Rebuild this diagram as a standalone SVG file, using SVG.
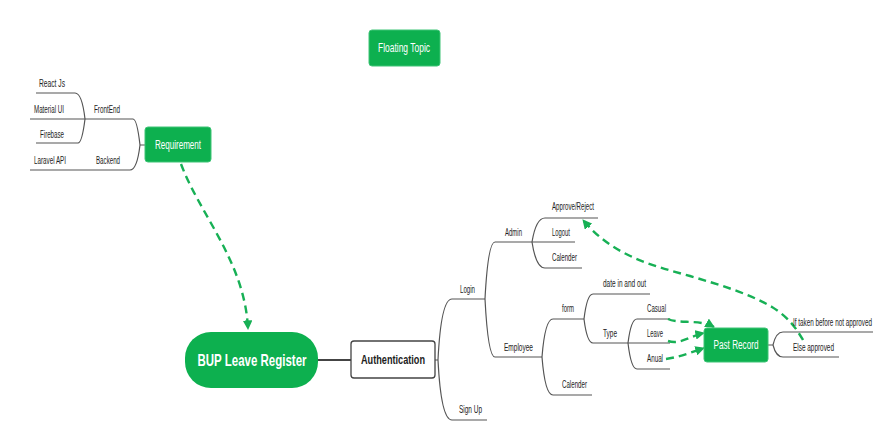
<svg xmlns="http://www.w3.org/2000/svg" width="883" height="437" viewBox="0 0 883 437">
<style>
.br{fill:none;stroke:#555;stroke-width:1.2}
.dash{fill:none;stroke:#17b055;stroke-width:2.4;stroke-dasharray:8 5}
.gbox{fill:#0db04f;stroke:#3fc477;stroke-width:1}
.t{font-family:"Liberation Sans",Arial,sans-serif;font-size:10px;fill:#222}
.w{font-family:"Liberation Sans",Arial,sans-serif;fill:#fff;text-anchor:middle}
</style>
<defs>
<marker id="ah" viewBox="0 0 10 10" refX="9" refY="5" markerWidth="4" markerHeight="4" orient="auto" markerUnits="strokeWidth">
<path d="M0,0 L10,5 L0,10 z" fill="#17b055"/>
</marker>
</defs>
<rect width="883" height="437" fill="#fff"/>
<g id="connectors">
<path class="br" d="M145,145 L140,145 M140,145 Q137,119 133,119 L30,119 M140,145 Q137,170 130,170 L30,170"/>
<path class="br" d="M85,119 Q82,93 75,93 L36,93 M85,119 Q82,143 78,143 L36,143"/>
<path class="br" d="M318,360 L351,360" style="stroke:#444;stroke-width:2"/>
<path class="br" d="M435,360 L438,360 M438,360 Q441,299 452,299 L485,299 M438,360 Q441,420 452,420 L487,420"/>
<path class="br" d="M485,299 Q488,242 495,242 L532,242 L575,242 M485,299 Q488,357 495,357 L542,357"/>
<path class="br" d="M532,242 Q536,218 545,218 L598,218 M532,242 Q536,268 545,268 L582,268"/>
<path class="br" d="M542,357 Q545,319 553,319 L584,319 M542,357 Q545,395 553,395 L592,395"/>
<path class="br" d="M584,319 Q587,294 593,294 L650,294 M584,319 Q587,343 593,343 L628,343 L670,343"/>
<path class="br" d="M628,343 Q631,319 637,319 L670,319 M628,343 Q631,369 637,369 L670,369"/>
<path class="br" d="M768,345 L773,345 M773,345 Q776,332 783,332 L873,332 M773,345 Q776,357 783,357 L839,357"/>
<path class="dash" d="M181,164 C 200,215 245,262 248,329" marker-end="url(#ah)"/>
<path class="dash" d="M668,319 C 678,324 700,319 714,327" marker-end="url(#ah)"/>
<path class="dash" d="M668,341 C 680,345 690,336 704,333" marker-end="url(#ah)"/>
<path class="dash" d="M666,359 C 680,357 692,352 704,348" marker-end="url(#ah)"/>
<path class="dash" d="M803,340 C 797,330 790,318 772,307 C 748,293 720,285 690,276 C 650,265 612,255 583,220" marker-end="url(#ah)"/>
</g>
<g id="floating">
<rect class="gbox" x="369" y="30" width="71" height="36" rx="3"/>
<text class="w" x="404" y="52" font-size="12" textLength="52" lengthAdjust="spacingAndGlyphs">Floating Topic</text>
</g>
<g id="requirement">
<rect class="gbox" x="145" y="127" width="66" height="35" rx="3"/>
<text class="w" x="178" y="149" font-size="12" textLength="46" lengthAdjust="spacingAndGlyphs">Requirement</text>
</g>
<g id="req-children">
<text class="t" x="39" y="87" textLength="26" lengthAdjust="spacingAndGlyphs">React Js</text>
<text class="t" x="34" y="113" textLength="30" lengthAdjust="spacingAndGlyphs">Material UI</text>
<text class="t" x="94" y="113" textLength="26" lengthAdjust="spacingAndGlyphs">FrontEnd</text>
<text class="t" x="40" y="138" textLength="24" lengthAdjust="spacingAndGlyphs">Firebase</text>
<text class="t" x="34" y="164" textLength="32" lengthAdjust="spacingAndGlyphs">Laravel API</text>
<text class="t" x="96" y="164" textLength="24" lengthAdjust="spacingAndGlyphs">Backend</text>
</g>
<g id="bup">
<rect x="185" y="332" width="133" height="56" rx="26" fill="#0db04f"/>
<text class="w" x="252" y="366" font-size="17" font-weight="bold" textLength="109" lengthAdjust="spacingAndGlyphs">BUP Leave Register</text>
</g>
<g id="authentication">
<rect x="351" y="341" width="84" height="37" rx="3" fill="#fff" stroke="#444" stroke-width="1.3"/>
<text x="393" y="364" font-family="Liberation Sans, Arial, sans-serif" font-size="12" font-weight="bold" fill="#222" text-anchor="middle" textLength="64" lengthAdjust="spacingAndGlyphs">Authentication</text>
</g>
<g id="auth-children">
<text class="t" x="460" y="293" textLength="15" lengthAdjust="spacingAndGlyphs">Login</text>
<text class="t" x="459" y="413" textLength="23" lengthAdjust="spacingAndGlyphs">Sign Up</text>
<text class="t" x="505" y="236" textLength="17" lengthAdjust="spacingAndGlyphs">Admin</text>
<text class="t" x="504" y="351" textLength="29" lengthAdjust="spacingAndGlyphs">Employee</text>
<text class="t" x="552" y="210" textLength="42" lengthAdjust="spacingAndGlyphs">Approve/Reject</text>
<text class="t" x="552" y="236" textLength="18" lengthAdjust="spacingAndGlyphs">Logout</text>
<text class="t" x="552" y="261" textLength="25" lengthAdjust="spacingAndGlyphs">Calender</text>
<text class="t" x="562" y="312" textLength="12" lengthAdjust="spacingAndGlyphs">form</text>
<text class="t" x="562" y="388" textLength="25" lengthAdjust="spacingAndGlyphs">Calender</text>
<text class="t" x="603" y="287" textLength="43" lengthAdjust="spacingAndGlyphs">date in and out</text>
<text class="t" x="603" y="337" textLength="14" lengthAdjust="spacingAndGlyphs">Type</text>
<text class="t" x="647" y="312" textLength="19" lengthAdjust="spacingAndGlyphs">Casual</text>
<text class="t" x="647" y="337" textLength="16" lengthAdjust="spacingAndGlyphs">Leave</text>
<text class="t" x="647" y="362" textLength="16" lengthAdjust="spacingAndGlyphs">Anual</text>
</g>
<g id="past-record">
<rect class="gbox" x="704" y="328" width="64" height="34" rx="3"/>
<text class="w" x="736" y="349" font-size="12" textLength="45" lengthAdjust="spacingAndGlyphs">Past Record</text>
</g>
<g id="past-children">
<text class="t" transform="translate(793,326) scale(0.632,1)">If taken before not approved</text>
<text class="t" x="793" y="351" textLength="41" lengthAdjust="spacingAndGlyphs">Else  approved</text>
</g>
</svg>
